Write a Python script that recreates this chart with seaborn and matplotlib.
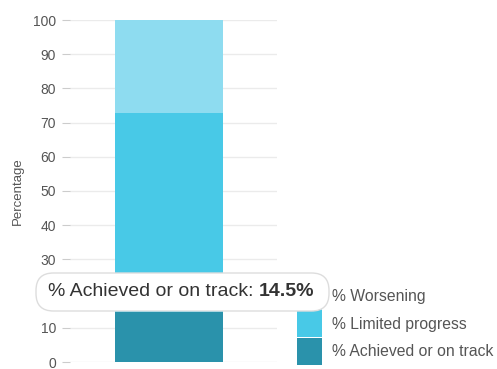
import matplotlib
matplotlib.use("Agg")
import matplotlib.pyplot as plt
from matplotlib.patches import FancyBboxPatch, Patch
import numpy as np
import pandas as pd
import seaborn as sns

# Share of indicators by progress status (single stacked column)
categories = ["Progress"]
statuses = ["% Worsening", "% Limited progress", "% Achieved or on track"]
achieved = [14.5]
limited = [58.2]
worsening = [27.3]
colors = {"% Worsening": "#8edcf0",
          "% Limited progress": "#48c9e7",
          "% Achieved or on track": "#2a92ab"}
yticks = [0, 10, 20, 30, 40, 50, 60, 70, 80, 90, 100]

sns.set_theme(style="white")
plt.rcParams["font.family"] = ["Liberation Sans", "DejaVu Sans"]

W, H = 497, 369
fig = plt.figure(figsize=(W / 100, H / 100), dpi=100)
ax = fig.add_axes([70 / W, 1 - 362 / H, 207 / W, 342 / H])

df = pd.DataFrame({"cat": categories,
                   "achieved": achieved,
                   "limited": limited,
                   "worsening": worsening})
df["top_limited"] = df["achieved"] + df["limited"]
df["top_worsening"] = df["top_limited"] + df["worsening"]

# stacked by overdrawing cumulative totals, back to front
for col, key in [("top_worsening", "% Worsening"),
                 ("top_limited", "% Limited progress"),
                 ("achieved", "% Achieved or on track")]:
    sns.barplot(data=df, x="cat", y=col, color=colors[key], width=0.52,
                saturation=1, linewidth=0, edgecolor="none", ax=ax, zorder=2)

ax.set_xlim(-0.478, 0.522)
ax.set_ylim(0, 100)
ax.set_yticks(yticks)
ax.set_yticklabels([str(v) for v in yticks], fontsize=10, color="#555555")
ax.set_xticks([])
ax.set_xlabel("")
ax.set_ylabel("Percentage", fontsize=9.5, color="#555555")
ax.yaxis.set_label_coords(-0.225, 0.5)
ax.tick_params(axis="y", length=6, width=0.8, color="#cccccc", pad=4, left=True)
ax.grid(axis="y", color="#ebebeb", linewidth=1, zorder=0)
for s in ax.spines.values():
    s.set_visible(False)
# the 20 label sits under the tooltip
for lab, v in zip(ax.get_yticklabels(), yticks):
    if v == 20:
        lab.set_visible(False)

handles = [Patch(facecolor=colors[s], edgecolor="none", label=s) for s in statuses]
leg = ax.legend(handles=handles, loc="upper left",
                bbox_to_anchor=(297 / W, 1 - 283 / H), bbox_transform=fig.transFigure,
                frameon=False, fontsize=11.3, handlelength=1.6, handleheight=2.27,
                labelspacing=0.03, handletextpad=0.6, borderaxespad=0, borderpad=0)
for t in leg.get_texts():
    t.set_color("#555555")

# tooltip box
x0, x1, y0, y1 = 36, 329, 273, 311
box = FancyBboxPatch((x0 / W, 1 - y1 / H), (x1 - x0) / W, (y1 - y0) / H,
                     boxstyle="round,pad=0,rounding_size=0.035",
                     transform=fig.transFigure, facecolor="white",
                     edgecolor="#dddddd", linewidth=1,
                     mutation_aspect=W / H)
fig.patches.append(box)
ty = 1 - 292 / H
t1 = fig.text(48 / W, ty, "% Achieved or on track: ", fontsize=14,
              color="#333333", va="center", ha="left", zorder=5)
fig.canvas.draw()
val = fig.text(0, ty, f"{achieved[0]}%", fontsize=14, fontweight="bold",
               color="#333333", va="center", ha="left", zorder=5)
bb = t1.get_window_extent()
val.set_position((bb.x1 / W, ty))

fig.savefig("out.png", dpi=100)
